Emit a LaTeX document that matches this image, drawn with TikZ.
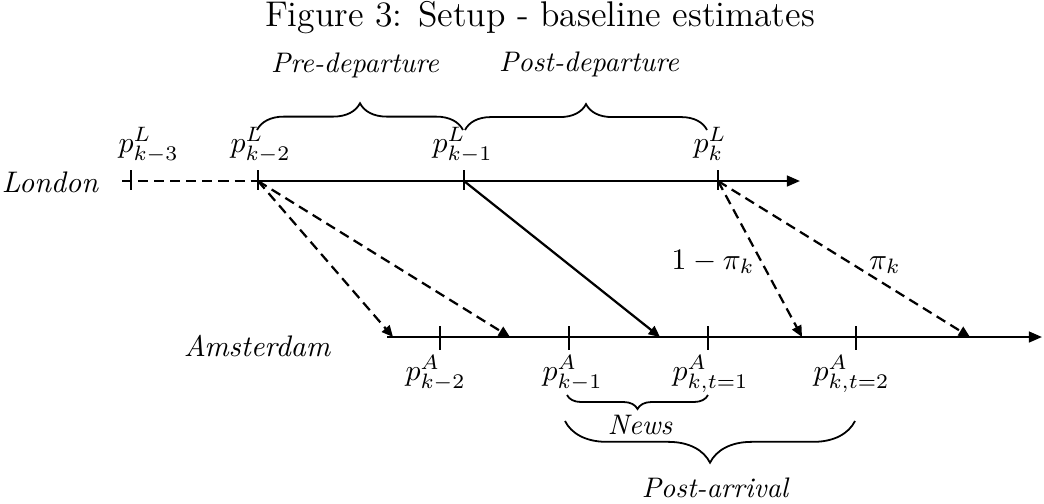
\documentclass[tikz,border=0pt]{standalone}
\usepackage{amsmath, amssymb}
\usepackage{tikz}
\usetikzlibrary{arrows.meta, positioning, calc, decorations.pathreplacing}

\begin{document}
\begin{tikzpicture}[x={(0.336pt,0pt)}, y={(0pt,-0.336pt)},
  axisline/.style={line width=0.75pt},
  tickmark/.style={line width=0.6pt},
  flow/.style={line width=0.75pt, -{Triangle[length=3.8pt,width=3.4pt]}},
  dflow/.style={flow, dash pattern=on 3.4pt off 2pt},
  lab/.style={font=\fontsize{9.5}{11}\selectfont\itshape},
  city/.style={font=\fontsize{10}{12}\selectfont\itshape},
  plab/.style={anchor=base west, inner sep=0pt},
  brc/.style={decorate, line width=0.6pt, decoration={brace, amplitude=#1}}]
  \useasboundingbox (0,0) rectangle (1044,503);

  \node[anchor=base, font=\large] (title) at (540,26) {Figure 3: Setup - baseline estimates};

  \coordinate (Lstart) at (122,181);
  \coordinate (L3) at (131,181);
  \coordinate (L2) at (258,181);
  \coordinate (L1) at (464,181);
  \coordinate (L0) at (718,181);
  \coordinate (Lend) at (800,181);
  \coordinate (Astart) at (387,337);
  \coordinate (A2) at (440,337);
  \coordinate (A1) at (569,337);
  \coordinate (At1) at (708,337);
  \coordinate (At2) at (856,337);
  \coordinate (Aend) at (1042,337);
  \coordinate (e1) at (393,337);
  \coordinate (e2) at (510,337);
  \coordinate (e3) at (660,337);
  \coordinate (e4) at (802,337);
  \coordinate (e5) at (970,337);

  \draw[axisline, dash pattern=on 3.4pt off 2pt] (Lstart) -- (L2);
  \draw[axisline, -{Triangle[length=4.4pt,width=3.6pt]}] (L2) -- (Lend);
  \draw[axisline, -{Triangle[length=4.4pt,width=3.6pt]}] (Astart) -- (Aend);
  \foreach \t in {L3,L2,L1,L0}
    \draw[tickmark] ($(\t)+(0,-11)$) -- ($(\t)+(0,9)$);
  \foreach \t in {A2,A1,At1,At2}
    \draw[tickmark] ($(\t)+(0,-11)$) -- ($(\t)+(0,13)$);

  \node[city] (lon) at (50,182) {London};
  \node[city] (ams) at (257,346) {Amsterdam};

  \node[plab] (pL3) at (118,152) {$p^L_{k-3}$};
  \node[plab] (pL2) at (230,152) {$p^L_{k-2}$};
  \node[plab] (pL1) at (432,152) {$p^L_{k-1}$};
  \node[plab] (pL0) at (693,152) {$p^L_{k}$};
  \node[plab] (pA2) at (405,380) {$p^A_{k-2}$};
  \node[plab] (pA1) at (542,380) {$p^A_{k-1}$};
  \node[plab] (pAt1) at (672,380) {$p^A_{k,t=1}$};
  \node[plab] (pAt2) at (813,380) {$p^A_{k,t=2}$};

  \draw[dflow] (L2) -- (e1);
  \draw[dflow] (L2) -- (e2);
  \draw[flow] (L1) -- (e3);
  \draw[dflow] (L0) -- (e4);
  \draw[dflow] (L0) -- (e5);
  \node (q1) at (713,262) {$1-\pi_k$};
  \node (q2) at (885,265) {$\pi_k$};

  \draw[brc=9pt] (257,130) -- (463,130);
  \draw[brc=8.7pt] (465,130) -- (707,130);
  \draw[brc=4.7pt] (708,395) -- (567,395);
  \draw[brc=14pt] (855,421) -- (565,421);

  \node[lab] (pre) at (355,65) {Pre-departure};
  \node[lab] (post) at (589,64) {Post-departure};
  \node[lab] (news) at (640,425) {News};
  \node[lab] (arr) at (715,488) {Post-arrival};
\end{tikzpicture}
\end{document}
